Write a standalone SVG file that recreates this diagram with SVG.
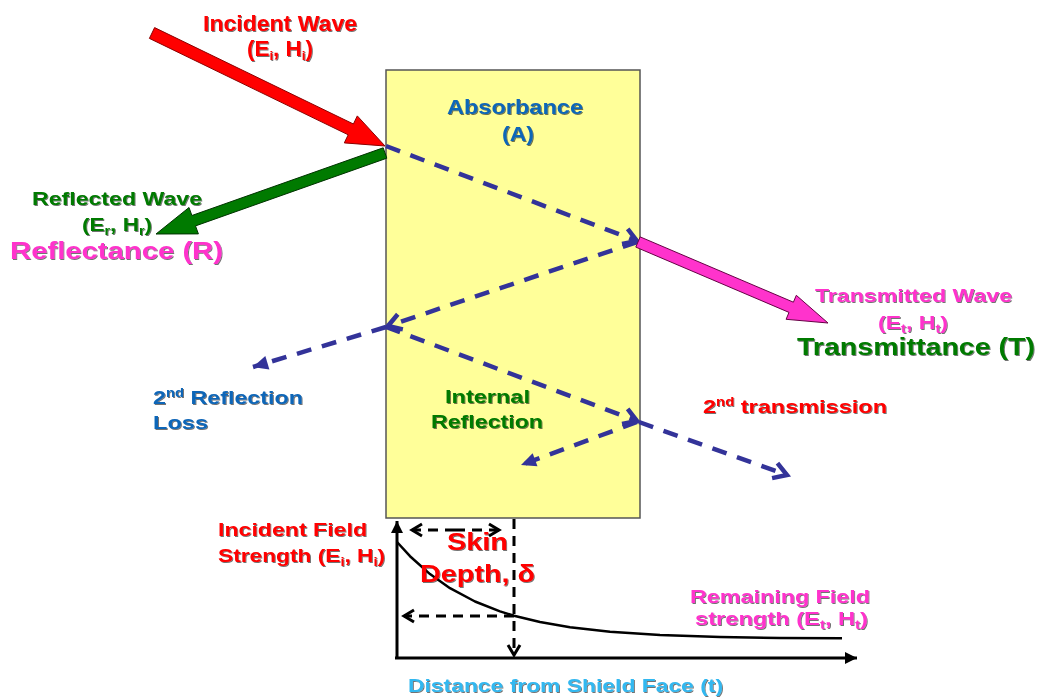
<svg xmlns="http://www.w3.org/2000/svg" width="1038" height="699" viewBox="0 0 1038 699">
<defs>
<style>
.t{font-family:"Liberation Sans",Arial,sans-serif;font-weight:bold;filter:url(#sh)}
.red{fill:#FF0000}.grn{fill:#007A00}.blu{fill:#0F66B8}.mag{fill:#FF33CC}.cyn{fill:#33B8F0}
.s19{font-size:19px}.s22{font-size:22px}.s24{font-size:24px}
.dash{fill:none;stroke:#333399;stroke-width:4.5;stroke-dasharray:15 11}
.kd{fill:none;stroke:#000;stroke-width:3;stroke-dasharray:10 7}
.ax{fill:none;stroke:#000;stroke-width:3}
</style>
<filter id="sh" x="-5%" y="-20%" width="110%" height="140%">
<feDropShadow dx="1" dy="1" stdDeviation="0.4" flood-color="#000" flood-opacity="0.55"/>
</filter>
<marker id="bv" markerUnits="userSpaceOnUse" markerWidth="30" markerHeight="30" viewBox="-15 -15 30 30" refX="0" refY="0" orient="auto" overflow="visible">
<path d="M-13,-8 L0,0 L-13,8" fill="none" stroke="#333399" stroke-width="4.5" stroke-linejoin="miter"/>
</marker>
<marker id="bt" markerUnits="userSpaceOnUse" markerWidth="30" markerHeight="30" viewBox="-15 -15 30 30" refX="0" refY="0" orient="auto" overflow="visible">
<path d="M-15,-7 L0,0 L-15,7 Z" fill="#333399"/>
</marker>
<marker id="kv" markerUnits="userSpaceOnUse" markerWidth="30" markerHeight="30" viewBox="-15 -15 30 30" refX="0" refY="0" orient="auto" overflow="visible">
<path d="M-10,-6 L0,0 L-10,6" fill="none" stroke="#000" stroke-width="3"/>
</marker>
<marker id="kt" markerUnits="userSpaceOnUse" markerWidth="30" markerHeight="30" viewBox="-15 -15 30 30" refX="0" refY="0" orient="auto" overflow="visible">
<path d="M-12,-6 L0,0 L-12,6 Z" fill="#000"/>
</marker>
</defs>
<rect width="1038" height="699" fill="#fff"/>

<g id="shield">
<rect x="386" y="70" width="254" height="448" fill="#FFFF99" stroke="#555" stroke-width="1.5"/>
</g>

<g id="connectors">
<line class="dash" x1="386" y1="146" x2="637" y2="241" marker-end="url(#bv)"/>
<line class="dash" x1="637" y1="242" x2="388" y2="326" marker-end="url(#bv)"/>
<line class="dash" x1="386" y1="327" x2="253" y2="367" marker-end="url(#bt)"/>
<line class="dash" x1="386" y1="327" x2="637" y2="421" marker-end="url(#bv)"/>
<line class="dash" x1="637" y1="422" x2="521" y2="465" marker-end="url(#bt)"/>
<line class="dash" x1="639" y1="422" x2="787" y2="475" marker-end="url(#bv)"/>
</g>

<g id="incident-arrow">
<polygon points="154.6,27.6 353.4,124 357.3,115.9 385,146 344.3,142.9 348.2,134.8 149.4,38.4" fill="#FF0000" stroke="#8B0000" stroke-width="1"/>
</g>
<g id="reflected-arrow">
<polygon points="383.2,147.8 191.9,215.5 189,207.5 156,234 198.4,233.9 195.5,225.9 386.8,158.2" fill="#007A00" stroke="#003300" stroke-width="1"/>
</g>
<g id="transmitted-arrow">
<polygon points="640.2,236.9 793.4,302.2 796.3,295.3 828,323 786.1,319.3 789,312.4 635.8,247.1" fill="#FF33CC" stroke="#660044" stroke-width="1"/>
</g>

<g id="graph">
<line class="ax" x1="397" y1="659" x2="397" y2="521" marker-end="url(#kt)"/>
<line class="ax" x1="395" y1="658" x2="857" y2="658" marker-end="url(#kt)"/>
<polyline fill="none" stroke="#000" stroke-width="2.5" stroke-linejoin="round" points="397,542 410,556.2 430,574.1 450,588.2 475,601.5 500,611.4 514,615.7 540,622 570,627.2 610,631.8 660,635.1 720,637.1 780,638 842,638.3"/>
<line class="kd" x1="514" y1="519" x2="514" y2="655" marker-end="url(#kv)"/>
<line class="kd" x1="455" y1="530" x2="412" y2="530" marker-end="url(#kv)"/>
<line class="kd" x1="455" y1="530" x2="499" y2="530" marker-end="url(#kv)"/>
<line class="kd" x1="514" y1="616" x2="404" y2="616" marker-end="url(#kv)"/>
</g>

<g id="label-incident">
<text class="t red s22" x="203" y="31" textLength="154" lengthAdjust="spacingAndGlyphs">Incident Wave</text>
<text class="t red s22" x="247" y="56" textLength="66" lengthAdjust="spacingAndGlyphs">(E<tspan font-size="13" dy="4">i</tspan><tspan dy="-4">, H</tspan><tspan font-size="13" dy="4">i</tspan><tspan dy="-4">)</tspan></text>
</g>
<g id="label-absorbance">
<text class="t blu" font-size="20" x="447" y="114" textLength="136" lengthAdjust="spacingAndGlyphs">Absorbance</text>
<text class="t blu" font-size="20" x="502" y="141" textLength="32" lengthAdjust="spacingAndGlyphs">(A)</text>
</g>
<g id="label-reflected">
<text class="t grn s19" x="32" y="205" textLength="170" lengthAdjust="spacingAndGlyphs">Reflected Wave</text>
<text class="t grn s19" x="82" y="231" textLength="70" lengthAdjust="spacingAndGlyphs">(E<tspan font-size="12" dy="4">r</tspan><tspan dy="-4">, H</tspan><tspan font-size="12" dy="4">r</tspan><tspan dy="-4">)</tspan></text>
<text class="t mag s24" x="10" y="259" textLength="213" lengthAdjust="spacingAndGlyphs">Reflectance (R)</text>
</g>
<g id="label-transmitted">
<text class="t mag s19" x="815" y="302" textLength="197" lengthAdjust="spacingAndGlyphs">Transmitted Wave</text>
<text class="t mag s19" x="878" y="329" textLength="70" lengthAdjust="spacingAndGlyphs">(E<tspan font-size="12" dy="4">t</tspan><tspan dy="-4">, H</tspan><tspan font-size="12" dy="4">t</tspan><tspan dy="-4">)</tspan></text>
<text class="t grn" font-size="23" x="797" y="355" textLength="238" lengthAdjust="spacingAndGlyphs">Transmittance (T)</text>
</g>
<g id="label-2nd-reflection">
<text class="t blu s19" x="153" y="404" textLength="150" lengthAdjust="spacingAndGlyphs">2<tspan font-size="12" dy="-7">nd</tspan><tspan dy="7"> Reflection</tspan></text>
<text class="t blu s19" x="153" y="429" textLength="55" lengthAdjust="spacingAndGlyphs">Loss</text>
</g>
<g id="label-internal">
<text class="t grn s19" x="445" y="403" textLength="85" lengthAdjust="spacingAndGlyphs">Internal</text>
<text class="t grn s19" x="431" y="428" textLength="112" lengthAdjust="spacingAndGlyphs">Reflection</text>
</g>
<g id="label-2nd-transmission">
<text class="t red s19" x="703" y="413" textLength="184" lengthAdjust="spacingAndGlyphs">2<tspan font-size="12" dy="-7">nd</tspan><tspan dy="7"> transmission</tspan></text>
</g>
<g id="label-incident-field">
<text class="t red s19" x="218" y="536" textLength="149" lengthAdjust="spacingAndGlyphs">Incident Field</text>
<text class="t red s19" x="218" y="562" textLength="167" lengthAdjust="spacingAndGlyphs">Strength (E<tspan font-size="12" dy="4">i</tspan><tspan dy="-4">, H</tspan><tspan font-size="12" dy="4">i</tspan><tspan dy="-4">)</tspan></text>
</g>
<g id="label-skin-depth">
<text class="t red s24" x="447" y="550" textLength="61" lengthAdjust="spacingAndGlyphs">Skin</text>
<text class="t red s24" x="420" y="582" textLength="115" lengthAdjust="spacingAndGlyphs">Depth, δ</text>
</g>
<g id="label-remaining">
<text class="t mag s19" x="690" y="603" textLength="180" lengthAdjust="spacingAndGlyphs">Remaining Field</text>
<text class="t mag s19" x="695" y="625" textLength="173" lengthAdjust="spacingAndGlyphs">strength (E<tspan font-size="12" dy="4">t</tspan><tspan dy="-4">, H</tspan><tspan font-size="12" dy="4">t</tspan><tspan dy="-4">)</tspan></text>
</g>
<g id="label-distance">
<text class="t cyn s19" x="408" y="692" textLength="315" lengthAdjust="spacingAndGlyphs">Distance from Shield Face (t)</text>
</g>
</svg>
